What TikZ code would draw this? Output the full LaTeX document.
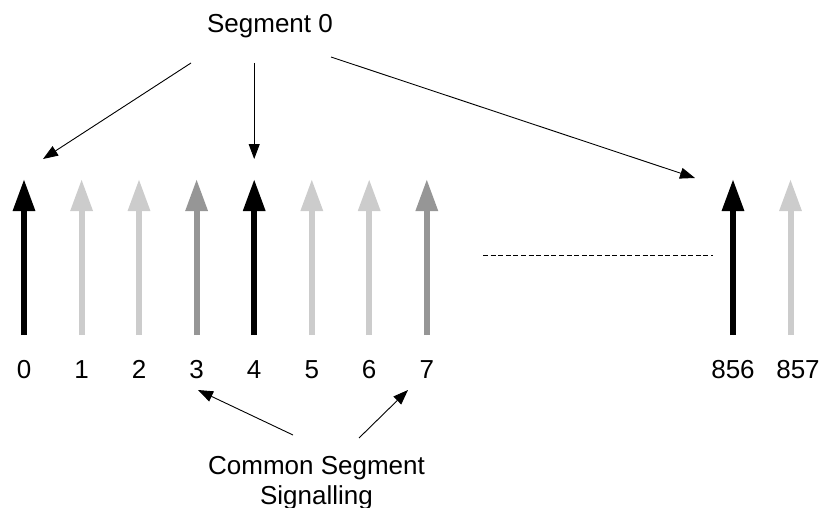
\documentclass[tikz,border=0pt]{standalone}
\usepackage{fontspec}
\setmainfont{Liberation Sans}
\usetikzlibrary{arrows.meta}
\definecolor{pale}{HTML}{CCCCCC}
\definecolor{mid}{HTML}{969696}
\tikzset{
  carrier/.style={line width=6pt,-{Triangle[length=32pt,width=21pt]}},
  pointer/.style={line width=0.9pt,-{Triangle[length=15pt,width=11pt]}},
  lbl/.style={inner sep=0pt,anchor=base,font=\fontsize{26}{30}\selectfont},
  gap/.style={line width=1pt,dash pattern=on 5pt off 2.6pt}
}
\begin{document}
\begin{tikzpicture}[x=1pt,y=-1pt]
\useasboundingbox (0,0) rectangle (824,508);

% subcarrier arrows: index, x position, colour
\foreach \n/\x/\c in {0/24/black,1/81.6/pale,2/139/pale,3/196.6/mid,4/254.2/black,5/311.8/pale,6/369.2/pale,7/426.8/mid,856/733/black,857/790.5/pale}{
  \coordinate (b\n) at (\x,335);
  \coordinate (t\n) at (\x,179);
  \draw[carrier,draw=\c,fill=\c] (b\n) -- (t\n);
}

% index labels
\foreach \n/\x in {0/24,1/81.6,2/139,3/196.6,4/254.2,5/311.8,6/369.2,7/426.8,856/733,857/798}{
  \node[lbl] (l\n) at (\x,378) {\n};
}

% gap between index 7 and 856
\coordinate (d1) at (483,255);
\coordinate (d2) at (713,255);
\draw[gap] (d1) -- (d2);

% segment label and its pointers
\node[lbl] (seg) at (270,33) {Segment 0};
\coordinate (s1) at (191,63);
\coordinate (s2) at (254.2,63);
\coordinate (s3) at (331,57);
\coordinate (p1) at (43,159);
\coordinate (p2) at (254.2,159);
\coordinate (p3) at (695,178);
\draw[pointer] (s1) -- (p1);
\draw[pointer] (s2) -- (p2);
\draw[pointer] (s3) -- (p3);

% common segment signalling label (base = last line) and its pointers
\node[lbl,align=center] (css) at (316.5,504) {Common Segment\\Signalling};
\coordinate (c1) at (293,435);
\coordinate (c2) at (359,438);
\coordinate (q1) at (198,390);
\coordinate (q2) at (408,390);
\draw[pointer] (c1) -- (q1);
\draw[pointer] (c2) -- (q2);
\end{tikzpicture}
\end{document}
